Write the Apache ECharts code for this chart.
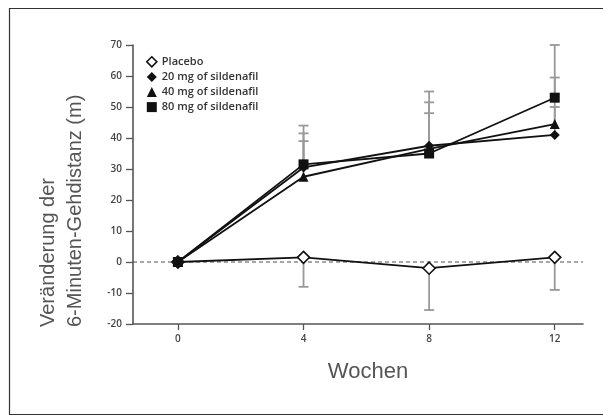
<!DOCTYPE html>
<html>
<head>
<meta charset="utf-8">
<script src="https://cdn.jsdelivr.net/npm/echarts@6/dist/echarts.min.js"></script>
<style>
html,body{margin:0;padding:0;background:#fff;}
#chart{width:603px;height:417px;}
</style>
</head>
<body>
<div id="chart"></div>
<script>
const weeks = [0, 4, 8, 12];
const xTicks = [0, 4, 8, 12];
const seriesNames = ['Placebo', '20 mg of sildenafil', '40 mg of sildenafil', '80 mg of sildenafil'];
const yTitleLines = ['Veränderung der', '6-Minuten-Gehdistanz (m)'];
const xTitle = 'Wochen';
const placebo = [0, 1.5, -2, 1.5];
const placeboLow = [null, -8, -15.5, -9];
const mg20 = [0, 30.5, 37.5, 41];
const mg20High = [null, 41.5, 48, 50];
const mg40 = [0, 27.5, 36.5, 44.5];
const mg40High = [null, 39, 51.5, 59.5];
const mg80 = [0, 31.5, 35, 53];
const mg80High = [null, 44, 55, 70];

const nameFont = "'Liberation Sans','Arial',sans-serif";
const tickFont = "'Open Sans','Lato',sans-serif";

function pairs(vals) { return weeks.map((w, i) => [w, vals[i]]); }
function errData(vals, ends) {
  const out = [];
  weeks.forEach((w, i) => { if (ends[i] !== null) out.push([w, vals[i], ends[i]]); });
  return out;
}
function errSeries(vals, ends) {
  return {
    type: 'custom',
    data: errData(vals, ends),
    z: 1,
    silent: true,
    encode: { x: 0, y: [1, 2] },
    renderItem: function (params, api) {
      const p0 = api.coord([api.value(0), api.value(1)]);
      const p1 = api.coord([api.value(0), api.value(2)]);
      const cw = 5;
      const style = { stroke: '#999', lineWidth: 1.8 };
      return {
        type: 'group',
        children: [
          { type: 'line', shape: { x1: p0[0], y1: p0[1], x2: p1[0], y2: p1[1] }, style: style },
          { type: 'line', shape: { x1: p1[0] - cw, y1: p1[1], x2: p1[0] + cw, y2: p1[1] }, style: style }
        ]
      };
    }
  };
}
function lineSeries(name, vals, symbol, size, fill, z) {
  return {
    name: name,
    type: 'line',
    data: pairs(vals),
    symbol: symbol,
    symbolSize: size,
    z: z,
    lineStyle: { color: '#111', width: 1.8 },
    itemStyle: { color: fill, borderColor: '#111', borderWidth: fill === '#fff' ? 1.6 : 0 },
    emphasis: { disabled: true }
  };
}

const chart = echarts.init(document.getElementById('chart'), null, { renderer: 'canvas' });
chart.setOption({
  animation: false,
  backgroundColor: '#fff',
  graphic: [
    {
      type: 'rect', left: 7, top: 6, z: -1,
      shape: { width: 620, height: 406 },
      style: { fill: 'none', stroke: '#333', lineWidth: 1.2 }
    },
    {
      type: 'text', x: 48, y: 327, rotation: Math.PI / 2,
      style: { text: yTitleLines[0], font: "20px 'Liberation Sans', Arial, sans-serif", fill: '#555', align: 'left', verticalAlign: 'middle' }
    },
    {
      type: 'text', x: 75, y: 327, rotation: Math.PI / 2,
      style: { text: yTitleLines[1], font: "20px 'Liberation Sans', Arial, sans-serif", fill: '#555', align: 'left', verticalAlign: 'middle' }
    }
  ],
  legend: {
    left: 141, top: 51, orient: 'vertical', itemGap: 4,
    itemWidth: 10, itemHeight: 10,
    textStyle: { fontFamily: tickFont, fontSize: 11, fontWeight: 600, color: '#333' },
    data: [
      { name: seriesNames[0], icon: 'diamond', itemStyle: { color: '#fff', borderColor: '#111', borderWidth: 1.6 } },
      { name: seriesNames[1], icon: 'diamond', itemStyle: { color: '#111', borderWidth: 0 } },
      { name: seriesNames[2], icon: 'triangle', itemStyle: { color: '#111', borderWidth: 0 } },
      { name: seriesNames[3], icon: 'rect', itemStyle: { color: '#111', borderWidth: 0 } }
    ]
  },
  grid: { left: 133, right: 20, top: 45, bottom: 93 },
  xAxis: {
    type: 'value', min: -1.43, max: 12.9,
    name: xTitle, nameLocation: 'middle', nameGap: 37,
    nameTextStyle: { fontFamily: nameFont, fontSize: 22, color: '#555', padding: [0, 0, 0, 20] },
    splitLine: { show: false },
    axisLine: { onZero: false, lineStyle: { color: '#555', width: 1.6 } },
    axisTick: { customValues: xTicks, length: 6, lineStyle: { color: '#555', width: 1.3 } },
    axisLabel: { customValues: xTicks, fontFamily: tickFont, fontSize: 10, fontWeight: 600, color: '#444', margin: 10 }
  },
  yAxis: {
    type: 'value', min: -20, max: 70, interval: 10,
    splitLine: { show: false },
    axisLine: { show: true, onZero: false, lineStyle: { color: '#555', width: 1.6 } },
    axisTick: { show: true, length: 7, lineStyle: { color: '#555', width: 1.3 } },
    axisLabel: { fontFamily: tickFont, fontSize: 10, fontWeight: 600, color: '#444', margin: 11 }
  },
  series: [
    errSeries(placebo, placeboLow),
    errSeries(mg20, mg20High),
    errSeries(mg40, mg40High),
    errSeries(mg80, mg80High),
    Object.assign(lineSeries(seriesNames[0], placebo, 'diamond', 12, '#fff', 2), {
      markLine: {
        silent: true, symbol: 'none', label: { show: false }, z: 0,
        lineStyle: { color: '#8a8a8a', type: [4, 3], width: 1.5 },
        data: [{ yAxis: 0 }]
      }
    }),
    lineSeries(seriesNames[1], mg20, 'diamond', 10, '#111', 3),
    lineSeries(seriesNames[2], mg40, 'triangle', 10, '#111', 4),
    lineSeries(seriesNames[3], mg80, 'rect', 10, '#111', 5)
  ]
});
</script>
</body>
</html>
